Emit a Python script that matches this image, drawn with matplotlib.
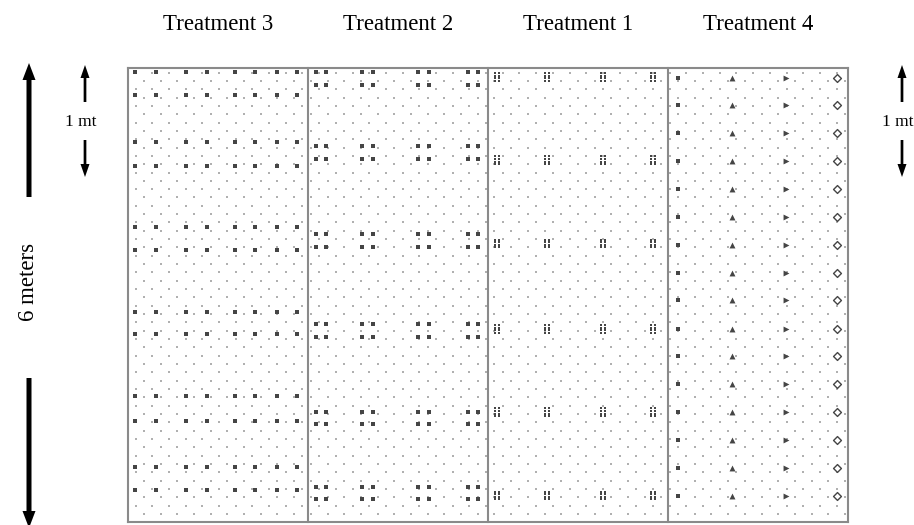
import numpy as np
import matplotlib
matplotlib.use("Agg")
import matplotlib.pyplot as plt

# ---------------- data (metres; x from plot's left edge, y from field top) ----
treatments = ["Treatment 3", "Treatment 2", "Treatment 1", "Treatment 4"]
field_height_m = 6.0
plot_width_m = 2.38

t3_cols = [0.09, 0.37, 0.77, 1.04, 1.41, 1.68, 1.97, 2.24]
t3_rows = [0.05, 0.36, 0.98, 1.29, 2.10, 2.41, 3.22, 3.52, 4.33, 4.66, 5.27, 5.58]

t2_cols = [0.11, 0.24, 0.71, 0.86, 1.45, 1.60, 2.11, 2.25]
t2_rows = [0.05, 0.22, 1.03, 1.20, 2.20, 2.37, 3.38, 3.55, 4.55, 4.71, 5.54, 5.70]

t1_cols = [0.12, 0.78, 1.52, 2.18]
t1_rows = [0.12, 1.22, 2.32, 3.45, 4.55, 5.65]

t4_cols = [0.13, 0.85, 1.56, 2.23]
t4_rows = [0.13, 0.49, 0.86, 1.23, 1.60, 1.97, 2.34, 2.71, 3.07, 3.45,
           3.81, 4.18, 4.55, 4.92, 5.29, 5.66]
t4_markers = ["s", "^", ">", "D"]

scale_big_label = "6 meters"
scale_small_label = "1 mt"

# ---------------- figure ----------------
W, H, DPI = 914, 525, 100
fig = plt.figure(figsize=(W / DPI, H / DPI), dpi=DPI)
fig.patch.set_facecolor("white")

# overlay axes in pixel units for scale arrows
ov = fig.add_axes([0, 0, 1, 1])
ov.set_xlim(0, W)
ov.set_ylim(H, 0)
ov.axis("off")

# field axes
left_px, right_px, top_px, bot_px = 128, 848, 68, 522
ax = fig.add_axes([left_px / W, (H - bot_px) / H,
                   (right_px - left_px) / W, (bot_px - top_px) / H])
total_w = plot_width_m * len(treatments)
ax.set_xlim(0, total_w)
ax.set_ylim(field_height_m, 0)
ax.axis("off")
ax.patch.set_alpha(0)

px_per_m = (bot_px - top_px) / field_height_m
P = 1.0 / px_per_m  # metres per pixel

# background dot texture (staggered lattice)
dx, dy = 16.7 * P, 8.33 * P
bx, by = [], []
for i, yy in enumerate(np.arange(0.06, field_height_m, dy)):
    start = 0.10 if i % 2 == 0 else 0.10 + dx / 2
    for xx in np.arange(start, total_w, dx):
        bx.append(xx)
        by.append(yy)
ax.scatter(bx, by, s=1.5, marker="s", color="#b0b0b0", linewidths=0, zorder=1)

plant_col = "#454545"

# Treatment 3 (plot index 0)
off = 0 * plot_width_m
X, Y = np.meshgrid(np.array(t3_cols) + off, t3_rows)
ax.scatter(X.ravel(), Y.ravel(), s=10, marker="s", color=plant_col,
           linewidths=0, zorder=3)

# Treatment 2 (plot index 1)
off = 1 * plot_width_m
X, Y = np.meshgrid(np.array(t2_cols) + off, t2_rows)
ax.scatter(X.ravel(), Y.ravel(), s=8, marker="s", color=plant_col,
           linewidths=0, zorder=3)

# Treatment 1 (plot index 2): "88"-like clusters
off = 2 * plot_width_m
cx, cy = [], []
for c in t1_cols:
    for r in t1_rows:
        for ddx in (-2.3, 2.3):
            for ddy in (-3.9, -1.3, 1.3, 3.9):
                cx.append(c + off + ddx * P)
                cy.append(r + ddy * P)
ax.scatter(cx, cy, s=4.5, marker="s", color=plant_col, linewidths=0, zorder=3)

# Treatment 4 (plot index 3)
off = 3 * plot_width_m
for c, m in zip(t4_cols, t4_markers):
    xs = [c + off] * len(t4_rows)
    if m == "D":
        ax.scatter(xs, t4_rows, s=16, marker=m, facecolor="white",
                   edgecolor=plant_col, linewidths=1.0, zorder=3)
    elif m == "s":
        ax.scatter(xs, t4_rows, s=10, marker=m, color=plant_col,
                   linewidths=0, zorder=3)
    else:
        ax.scatter(xs, t4_rows, s=18, marker=m, color=plant_col,
                   linewidths=0, zorder=3)

# borders
line_kw = dict(color="#8a8a8a", lw=1.5, zorder=4, clip_on=False)
for k in range(len(treatments) + 1):
    ax.plot([k * plot_width_m] * 2, [0, field_height_m], **line_kw)
ax.plot([0, total_w], [0, 0], **line_kw)
ax.plot([0, total_w], [field_height_m, field_height_m], **line_kw)

# treatment labels
for k, lab in enumerate(treatments):
    ax.text((k + 0.5) * plot_width_m, -(top_px - 24) * P, lab,
            ha="center", va="center", fontsize=16.5,
            family="Liberation Serif", clip_on=False)

# ---------------- scale arrows ----------------
def arrow(x, y0, y1, width, hw, hl):
    ov.arrow(x, y0, 0, y1 - y0, width=width, head_width=hw, head_length=hl,
             length_includes_head=True, color="black", lw=0)

# big 6 m arrows on the left
arrow(29, 197, 63, 5, 13, 17)
arrow(29, 378, 528, 5, 13, 17)
ov.text(29, 282, scale_big_label, rotation=90, ha="center", va="center",
        fontsize=16.5, family="Liberation Serif")

# small 1 m arrows (left and right)
for x, tx in ((85, 81), (902, 898)):
    arrow(x, 102, 65, 2.7, 9, 13)
    arrow(x, 140, 177, 2.7, 9, 13)
    ov.text(tx, 122, scale_small_label, ha="center", va="center",
            fontsize=12.5, family="Liberation Serif")

fig.savefig("out.png", dpi=DPI, facecolor="white")
